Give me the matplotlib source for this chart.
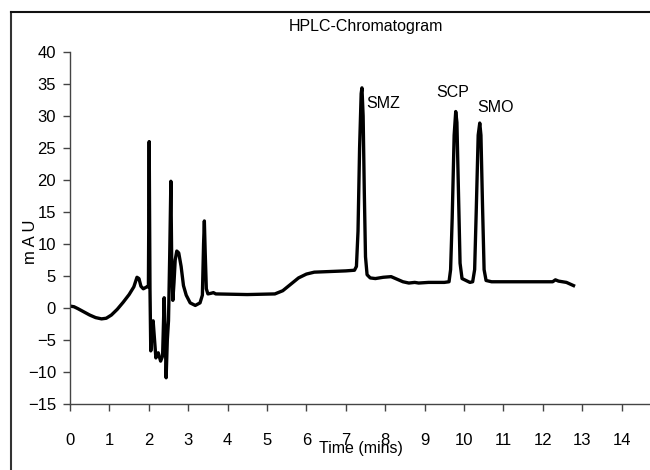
import matplotlib
matplotlib.use("Agg")
import matplotlib.pyplot as plt
from matplotlib.lines import Line2D

plt.rcParams["font.family"] = ["Liberation Sans Narrow", "Liberation Sans", "DejaVu Sans"]

# chromatogram trace (time in mins, signal in mAU)
time_min = [
    0.00, 0.10, 0.20, 0.35, 0.50, 0.65, 0.80, 0.92, 1.05, 1.20, 1.35, 1.50, 1.62, 1.70,
    1.75, 1.80, 1.86, 1.95, 1.99, 2.01, 2.03, 2.05, 2.08, 2.11, 2.14, 2.18, 2.24, 2.30,
    2.35, 2.39, 2.42, 2.44, 2.47, 2.50, 2.53, 2.56, 2.58, 2.61, 2.64, 2.67, 2.71, 2.76,
    2.82, 2.88, 2.95, 3.05, 3.18, 3.30, 3.36, 3.39, 3.41, 3.43, 3.46, 3.50, 3.58, 3.64,
    3.70, 4.50, 5.20, 5.40, 5.60, 5.80, 6.00, 6.20, 6.60, 7.00, 7.22, 7.27, 7.31, 7.35,
    7.39, 7.41, 7.44, 7.47, 7.50, 7.54, 7.62, 7.75, 7.95, 8.15, 8.30, 8.45, 8.60, 8.75,
    8.85, 9.10, 9.50, 9.62, 9.66, 9.70, 9.75, 9.79, 9.82, 9.86, 9.90, 9.95, 10.05, 10.15,
    10.22, 10.27, 10.31, 10.36, 10.40, 10.43, 10.47, 10.51, 10.56, 10.70, 11.50, 12.25,
    12.32, 12.40, 12.60, 12.78,
]
signal_mau = [
    0.3, 0.2, -0.1, -0.6, -1.1, -1.5, -1.7, -1.6, -1.1, -0.2, 0.9, 2.1, 3.3, 4.8,
    4.6, 3.4, 3.0, 3.3, 3.3, 26.0, 3.0, -6.7, -4.0, -2.0, -4.5, -7.8, -7.0, -8.3,
    -7.5, 1.6, -5.0, -10.9, -5.0, -2.0, 8.0, 19.8, 8.0, 1.2, 4.0, 7.5, 8.9, 8.6,
    6.5, 3.5, 2.0, 0.8, 0.4, 0.8, 2.0, 10.0, 13.6, 9.0, 3.0, 2.2, 2.3, 2.4,
    2.2, 2.1, 2.2, 2.7, 3.7, 4.7, 5.3, 5.6, 5.7, 5.8, 5.9, 6.5, 12.0, 25.0,
    33.5, 34.4, 30.0, 18.0, 8.0, 5.2, 4.7, 4.6, 4.8, 4.9, 4.5, 4.1, 3.9, 4.0,
    3.9, 4.0, 4.0, 4.1, 6.0, 14.0, 27.0, 30.7, 29.0, 18.0, 7.0, 4.6, 4.3, 4.0,
    4.1, 6.0, 15.0, 27.0, 28.9, 27.0, 16.0, 6.0, 4.3, 4.1, 4.1, 4.1,
    4.4, 4.2, 4.0, 3.5,
]

peak_names = ["SMZ", "SCP", "SMO"]
peak_label_x = [7.52, 9.30, 10.33]
peak_label_y = [32.0, 33.6, 31.4]

xticks = list(range(0, 16))
yticks = list(range(-15, 41, 5))

fig = plt.figure(figsize=(6.5, 4.7), dpi=100)
# axes run past the right edge, as in the original clipped screenshot
ax = fig.add_axes([70 / 650, 66 / 470, 591 / 650, 352 / 470])

ax.plot(time_min, signal_mau, color="black", linewidth=2.4, solid_joinstyle="round")

for name, lx, ly in zip(peak_names, peak_label_x, peak_label_y):
    ax.text(lx, ly, name, fontsize=11.5, va="center", ha="left")

ax.set_xlim(0, 15)
ax.set_ylim(-15, 40)
ax.set_xticks(xticks)
ax.set_yticks(yticks)
ax.spines["top"].set_visible(False)
ax.spines["right"].set_visible(False)
for s in ["left", "bottom"]:
    ax.spines[s].set_color("#444444")
    ax.spines[s].set_linewidth(1.0)
ax.tick_params(axis="x", direction="out", length=5, width=1, color="#444444",
               labelsize=12, pad=16)
ax.tick_params(axis="y", direction="out", length=5, width=1, color="#444444",
               labelsize=12, pad=5)

ax.set_title("HPLC-Chromatogram", fontsize=11.5, pad=15)
ax.set_xlabel("Time (mins)", fontsize=11.5)
ax.xaxis.set_label_coords((361 - 70) / 591, -(448 - 404) / 352)
ax.xaxis.label.set_va("center")
ax.set_ylabel("m A U", fontsize=12)
ax.yaxis.set_label_coords(-(70 - 30) / 591, (404 - 242) / 352)
ax.yaxis.label.set_va("center")

# outer frame of the chart area (left and top edges visible)
fig.add_artist(Line2D([11 / 650, 11 / 650], [0, 1 - 12 / 470], transform=fig.transFigure,
                      color="#333333", linewidth=1.5))
fig.add_artist(Line2D([11 / 650, 1], [1 - 12 / 470, 1 - 12 / 470], transform=fig.transFigure,
                      color="#111111", linewidth=1.5))

fig.savefig("out.png", dpi=100)
